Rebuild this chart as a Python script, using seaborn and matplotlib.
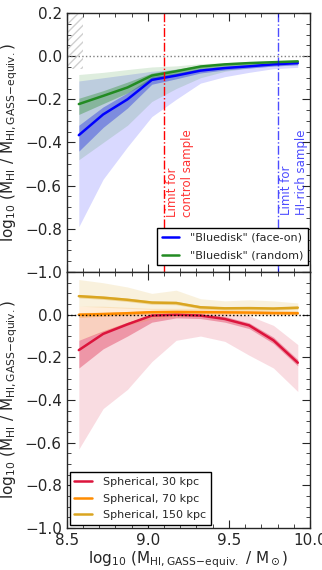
import numpy as np
import pandas as pd
import matplotlib
matplotlib.use("Agg")
import matplotlib.pyplot as plt
from matplotlib.ticker import MultipleLocator
import seaborn as sns

# bin centres (log10 M_HI,GASS-equiv)
mass = [8.575, 8.725, 8.875, 9.025, 9.175, 9.325, 9.475, 9.625, 9.775, 9.925]

# top panel: Bluedisk face-on
face_med = [-0.366, -0.27, -0.20, -0.11, -0.09, -0.067, -0.055, -0.047, -0.038, -0.032]
face_in_lo = [-0.44, -0.33, -0.24, -0.13, -0.105, -0.078, -0.064, -0.055, -0.046, -0.04]
face_in_hi = [-0.32, -0.235, -0.17, -0.095, -0.078, -0.058, -0.047, -0.04, -0.032, -0.026]
face_out_lo = [-0.79, -0.57, -0.42, -0.28, -0.20, -0.125, -0.095, -0.075, -0.058, -0.052]
face_out_hi = [-0.115, -0.10, -0.085, -0.07, -0.06, -0.05, -0.04, -0.035, -0.03, -0.025]

# top panel: Bluedisk random
rand_med = [-0.222, -0.184, -0.145, -0.09, -0.07, -0.048, -0.038, -0.032, -0.028, -0.024]
rand_in_lo = [-0.27, -0.22, -0.17, -0.11, -0.085, -0.06, -0.047, -0.04, -0.035, -0.03]
rand_in_hi = [-0.195, -0.16, -0.12, -0.078, -0.06, -0.042, -0.033, -0.028, -0.024, -0.02]
rand_out_lo = [-0.48, -0.40, -0.32, -0.21, -0.15, -0.10, -0.07, -0.055, -0.045, -0.04]
rand_out_hi = [-0.085, -0.075, -0.062, -0.05, -0.045, -0.035, -0.03, -0.025, -0.02, -0.018]

# bottom panel: spherical 30 kpc
s30_med = [-0.166, -0.09, -0.045, -0.004, 0.0, -0.004, -0.02, -0.05, -0.12, -0.225]
s30_in_lo = [-0.25, -0.16, -0.10, -0.035, -0.015, -0.018, -0.035, -0.065, -0.135, -0.24]
s30_in_hi = [-0.12, -0.075, -0.035, 0.0, 0.005, 0.005, -0.008, -0.038, -0.105, -0.21]
s30_out_lo = [-0.63, -0.44, -0.35, -0.22, -0.12, -0.10, -0.125, -0.19, -0.25, -0.36]
s30_out_hi = [0.0, 0.01, 0.01, 0.01, 0.01, 0.01, 0.005, -0.005, -0.05, -0.14]

# bottom panel: spherical 70 kpc
s70_med = [0.0, 0.003, 0.007, 0.012, 0.013, 0.012, 0.011, 0.01, 0.008, 0.007]
s70_in_lo = [-0.012, -0.007, -0.003, 0.003, 0.005, 0.005, 0.004, 0.003, 0.002, 0.001]
s70_in_hi = [0.01, 0.012, 0.015, 0.02, 0.02, 0.019, 0.018, 0.017, 0.015, 0.014]
s70_out_lo = [-0.12, -0.08, -0.05, -0.02, -0.01, -0.005, -0.005, -0.005, -0.005, -0.005]
s70_out_hi = [0.04, 0.04, 0.035, 0.03, 0.03, 0.03, 0.025, 0.025, 0.02, 0.02]

# bottom panel: spherical 150 kpc
s150_med = [0.087, 0.08, 0.07, 0.057, 0.055, 0.035, 0.03, 0.031, 0.029, 0.033]
s150_in_lo = [0.079, 0.072, 0.062, 0.049, 0.047, 0.028, 0.023, 0.024, 0.022, 0.026]
s150_in_hi = [0.095, 0.088, 0.078, 0.065, 0.063, 0.042, 0.037, 0.038, 0.036, 0.04]
s150_out_lo = [0.04, 0.035, 0.03, 0.025, 0.02, 0.015, 0.012, 0.012, 0.012, 0.012]
s150_out_hi = [0.165, 0.15, 0.13, 0.10, 0.115, 0.075, 0.065, 0.07, 0.065, 0.055]

sns.set_style("ticks", {"xtick.direction": "in", "ytick.direction": "in"})
plt.rcParams["font.family"] = ["DejaVu Sans"]
plt.rcParams["mathtext.default"] = "regular"

fig = plt.figure(figsize=(3.22, 5.7), dpi=100)
ax1 = fig.add_axes([0.207, 0.5228, 0.7556, 0.4544])
ax2 = fig.add_axes([0.207, 0.0737, 0.7556, 0.449], sharex=ax1)


def band_plot(ax, name, color, med, ilo, ihi, olo, ohi):
    ax.fill_between(mass, olo, ohi, color=color, alpha=0.15, lw=0)
    ax.fill_between(mass, ilo, ihi, color=color, alpha=0.35, lw=0)
    d = pd.DataFrame({"x": mass, "y": med})
    sns.lineplot(data=d, x="x", y="y", ax=ax, color=color, lw=1.8, label=name)


# top panel
ax1.fill_between([8.5, 8.6], -0.06, 0.2, hatch="////", facecolor="none",
                 edgecolor="#d0d0d0", lw=0)
band_plot(ax1, '"Bluedisk" (face-on)', "blue", face_med, face_in_lo, face_in_hi, face_out_lo, face_out_hi)
band_plot(ax1, '"Bluedisk" (random)', "forestgreen", rand_med, rand_in_lo, rand_in_hi, rand_out_lo, rand_out_hi)
ax1.axhline(0, color="gray", ls=":", lw=1)
ax1.axvline(9.1, color="red", ls="-.", lw=1)
ax1.axvline(9.8, color="blue", ls="-.", lw=1, alpha=0.7)
ax1.text(9.115, -0.34, "Limit for\ncontrol sample", rotation=90, color="red",
         fontsize=8.5, ha="left", va="top", alpha=0.8)
ax1.text(9.815, -0.34, "Limit for\nHI-rich sample", rotation=90, color="blue",
         fontsize=8.5, ha="left", va="top", alpha=0.7)

# bottom panel
band_plot(ax2, "Spherical, 30 kpc", "crimson", s30_med, s30_in_lo, s30_in_hi, s30_out_lo, s30_out_hi)
band_plot(ax2, "Spherical, 70 kpc", "darkorange", s70_med, s70_in_lo, s70_in_hi, s70_out_lo, s70_out_hi)
band_plot(ax2, "Spherical, 150 kpc", "goldenrod", s150_med, s150_in_lo, s150_in_hi, s150_out_lo, s150_out_hi)
ax2.axhline(0, color="black", ls=":", lw=1)

ylab = r"log$_{10}$ (M$_{HI}$ / M$_{HI,GASS\!-\!equiv.}$)"
for ax in (ax1, ax2):
    ax.set_xlim(8.5, 10.0)
    ax.set_ylim(-1.0, 0.2)
    ax.xaxis.set_major_locator(MultipleLocator(0.5))
    ax.xaxis.set_minor_locator(MultipleLocator(0.1))
    ax.yaxis.set_major_locator(MultipleLocator(0.2))
    ax.yaxis.set_minor_locator(MultipleLocator(0.05))
    ax.tick_params(which="both", direction="in", top=True, right=True)
    ax.tick_params(which="major", length=6, labelsize=11)
    ax.tick_params(which="minor", length=3)
    for s in ax.spines.values():
        s.set_linewidth(1)
    ax.set_ylabel(ylab, fontsize=11)
    ax.yaxis.set_label_coords(-0.19, 0.5)

ax1.set_xlabel("")
ax1.tick_params(labelbottom=False)
ax2.set_yticks([-1.0, -0.8, -0.6, -0.4, -0.2, 0.0, 0.2])
ax2.set_yticklabels(["\u22121.0", "\u22120.8", "\u22120.6", "\u22120.4", "\u22120.2", "0.0", ""])
ax2.set_xlabel(r"log$_{10}$ (M$_{HI,GASS\!-\!equiv.}$ / M$_\odot$)", fontsize=11, labelpad=1)

leg1 = ax1.legend(loc="lower right", fontsize=8, fancybox=False, handlelength=1.6,
                  handletextpad=1.0, labelspacing=0.7, borderaxespad=0.15,
                  bbox_to_anchor=(1.0, 0.02), framealpha=1)
leg1.get_frame().set_edgecolor("black")
leg2 = ax2.legend(loc="lower left", fontsize=8, fancybox=False, handlelength=1.6,
                  handletextpad=1.0, labelspacing=0.6, borderaxespad=0.3, framealpha=1)
leg2.get_frame().set_edgecolor("black")

fig.savefig("out.png", dpi=100)
